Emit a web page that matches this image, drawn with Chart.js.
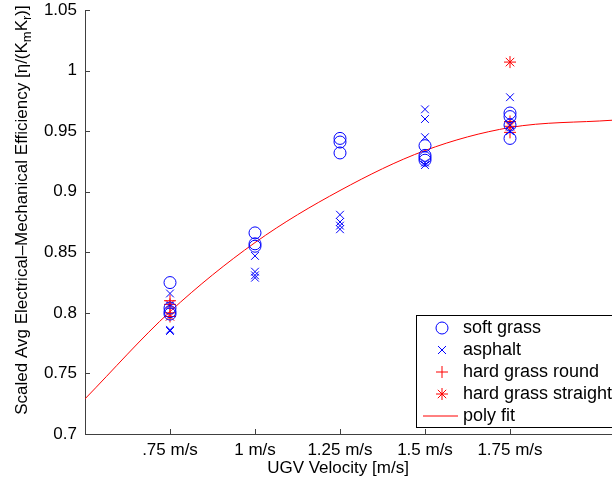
<!DOCTYPE html>
<html>
<head>
<meta charset="utf-8">
<script src="https://cdn.jsdelivr.net/npm/chart.js@4/dist/chart.umd.min.js"></script>
<style>
  html, body { margin: 0; padding: 0; background: #fff; }
</style>
</head>
<body>
<canvas id="chart" width="612" height="480"></canvas>
<script>
// measured values, one list per velocity
const velocities = [0.75, 1, 1.25, 1.5, 1.75];
const softGrass = [
  [0.825, 0.804, 0.801, 0.799],
  [0.866, 0.857, 0.855],
  [0.944, 0.941, 0.932],
  [0.938, 0.930, 0.928, 0.926],
  [0.965, 0.962, 0.955, 0.944]
];
const asphalt = [
  [0.816, 0.806, 0.786, 0.785],
  [0.847, 0.834, 0.831, 0.829],
  [0.881, 0.875, 0.872, 0.869],
  [0.968, 0.960, 0.945, 0.924, 0.922],
  [0.978, 0.955, 0.950]
];
const hardGrassRound = [
  [0.810, 0.800],
  [],
  [],
  [],
  [0.958, 0.949]
];
const hardGrassStraight = [
  [0.807, 0.797],
  [],
  [],
  [],
  [1.007, 0.954]
];
// poly fit curve
const fitX = [0.5, 0.75, 1, 1.25, 1.5, 1.75, 2.05];
const fitY = [0.729, 0.801, 0.858, 0.901, 0.934, 0.953, 0.959];

const xTicks = [0.75, 1, 1.25, 1.5, 1.75];
const xTickLabels = [".75 m/s", "1 m/s", "1.25 m/s", "1.5 m/s", "1.75 m/s"];
const yTicks = [0.7, 0.75, 0.8, 0.85, 0.9, 0.95, 1, 1.05];
const yTickLabels = ["0.7", "0.75", "0.8", "0.85", "0.9", "0.95", "1", "1.05"];

const FONT = "'Liberation Sans', Arial, Helvetica, sans-serif";
const axisColor = "#404040";
const blue = "#0000ff";
const red = "#ff0000";

function toPoints(groups) {
  const pts = [];
  groups.forEach(function (vals, i) {
    vals.forEach(function (v) { pts.push({ x: velocities[i], y: v }); });
  });
  return pts;
}

function drawMarker(ctx, style, x, y, color) {
  ctx.strokeStyle = color;
  ctx.lineWidth = 1;
  ctx.beginPath();
  if (style === "circle") {
    ctx.arc(x, y, 6, 0, Math.PI * 2);
  } else if (style === "crossRot") {
    ctx.moveTo(x - 4, y - 4); ctx.lineTo(x + 4, y + 4);
    ctx.moveTo(x - 4, y + 4); ctx.lineTo(x + 4, y - 4);
  } else if (style === "cross") {
    ctx.moveTo(x - 6, y); ctx.lineTo(x + 6, y);
    ctx.moveTo(x, y - 6); ctx.lineTo(x, y + 6);
  } else if (style === "star") {
    ctx.moveTo(x - 6, y); ctx.lineTo(x + 6, y);
    ctx.moveTo(x, y - 6); ctx.lineTo(x, y + 6);
    ctx.moveTo(x - 4.2, y - 4.2); ctx.lineTo(x + 4.2, y + 4.2);
    ctx.moveTo(x - 4.2, y + 4.2); ctx.lineTo(x + 4.2, y - 4.2);
  } else if (style === "line") {
    ctx.moveTo(x - 19, y); ctx.lineTo(x + 16, y);
  }
  ctx.stroke();
}

const decor = {
  id: "decor",
  afterDraw(chart) {
    const ctx = chart.ctx;
    const a = chart.chartArea;
    const xs = chart.scales.x, ys = chart.scales.y;
    ctx.save();

    // inward ticks
    ctx.strokeStyle = axisColor;
    ctx.lineWidth = 1;
    ctx.beginPath();
    xTicks.forEach(function (v) {
      const px = Math.round(xs.getPixelForValue(v)) + 0.5;
      ctx.moveTo(px, a.bottom); ctx.lineTo(px, a.bottom - 5);
    });
    yTicks.forEach(function (v) {
      const py = Math.round(ys.getPixelForValue(v)) + 0.5;
      ctx.moveTo(a.left, py); ctx.lineTo(a.left + 5, py);
    });
    ctx.stroke();

    // x title
    ctx.fillStyle = "#000";
    ctx.font = "17px " + FONT;
    ctx.textAlign = "center";
    ctx.textBaseline = "middle";
    ctx.fillText("UGV Velocity [m/s]", 338, 468);

    // y title with subscripts
    const parts = [
      ["Scaled Avg Electrical\u2013Mechanical Efficiency [\u03b7/(K", false],
      ["m", true], ["K", false], ["r", true], [")]", false]
    ];
    let total = 0;
    parts.forEach(function (p) {
      ctx.font = (p[1] ? "13px " : "17px ") + FONT;
      total += ctx.measureText(p[0]).width;
    });
    ctx.translate(22, 210);
    ctx.rotate(-Math.PI / 2);
    ctx.textAlign = "left";
    let cx = -total / 2;
    parts.forEach(function (p) {
      ctx.font = (p[1] ? "13px " : "17px ") + FONT;
      ctx.fillText(p[0], cx, p[1] ? 5 : 0);
      cx += ctx.measureText(p[0]).width;
    });
    ctx.setTransform(1, 0, 0, 1, 0, 0);

    // legend box
    const lx = 416.5, ly = 315.5;
    ctx.fillStyle = "#fff";
    ctx.fillRect(lx, ly, 210, 112);
    ctx.strokeStyle = "#000";
    ctx.strokeRect(lx, ly, 210, 112);
    ctx.font = "18px " + FONT;
    ctx.textAlign = "left";
    ctx.textBaseline = "middle";
    chart.data.datasets.forEach(function (ds, i) {
      const ry = 328 + i * 22;
      drawMarker(ctx, ds.legendStyle, 442, ry, ds.borderColor);
      ctx.fillStyle = "#000";
      ctx.fillText(ds.label, 463, ry);
    });
    ctx.restore();
  }
};

new Chart(document.getElementById("chart"), {
  type: "scatter",
  data: {
    datasets: [
      {
        label: "soft grass", data: toPoints(softGrass), legendStyle: "circle",
        pointStyle: "circle", pointRadius: 6, borderColor: blue,
        backgroundColor: "rgba(0,0,0,0)", borderWidth: 1
      },
      {
        label: "asphalt", data: toPoints(asphalt), legendStyle: "crossRot",
        pointStyle: "crossRot", pointRadius: 5.5, borderColor: blue,
        backgroundColor: blue, borderWidth: 1
      },
      {
        label: "hard grass round", data: toPoints(hardGrassRound), legendStyle: "cross",
        pointStyle: "cross", pointRadius: 6, borderColor: red,
        backgroundColor: red, borderWidth: 1
      },
      {
        label: "hard grass straight", data: toPoints(hardGrassStraight), legendStyle: "star",
        pointStyle: "star", pointRadius: 6, borderColor: red,
        backgroundColor: red, borderWidth: 1
      },
      {
        label: "poly fit", legendStyle: "line",
        data: fitX.map(function (x, i) { return { x: x, y: fitY[i] }; }),
        showLine: true, pointRadius: 0, borderColor: red, borderWidth: 1,
        cubicInterpolationMode: "monotone"
      }
    ]
  },
  options: {
    responsive: false,
    animation: false,
    devicePixelRatio: 1,
    layout: { autoPadding: false, padding: { top: 10, right: 0, left: 0, bottom: 0 } },
    plugins: { legend: { display: false }, tooltip: { enabled: false } },
    scales: {
      x: {
        type: "linear", min: 0.5, max: 2.05,
        afterFit: function (s) { s.height = 46; s.paddingLeft = 0; s.paddingRight = 0; },
        afterBuildTicks: function (s) { s.ticks = xTicks.map(function (v) { return { value: v }; }); },
        grid: { drawOnChartArea: false, drawTicks: false },
        border: { display: true, color: axisColor, width: 1 },
        ticks: {
          padding: 6, color: "#000", font: { family: FONT, size: 17 },
          maxRotation: 0, autoSkip: false,
          callback: function (v) { return xTickLabels[xTicks.indexOf(v)]; }
        }
      },
      y: {
        type: "linear", min: 0.7, max: 1.05,
        afterFit: function (s) { s.width = 85; s.paddingTop = 0; s.paddingBottom = 0; },
        afterBuildTicks: function (s) { s.ticks = yTicks.map(function (v) { return { value: v }; }); },
        grid: { drawOnChartArea: false, drawTicks: false },
        border: { display: true, color: axisColor, width: 1 },
        ticks: {
          padding: 8, color: "#000", font: { family: FONT, size: 17 },
          autoSkip: false,
          callback: function (v) { return yTickLabels[yTicks.indexOf(v)]; }
        }
      }
    }
  },
  plugins: [decor]
});
</script>
</body>
</html>
